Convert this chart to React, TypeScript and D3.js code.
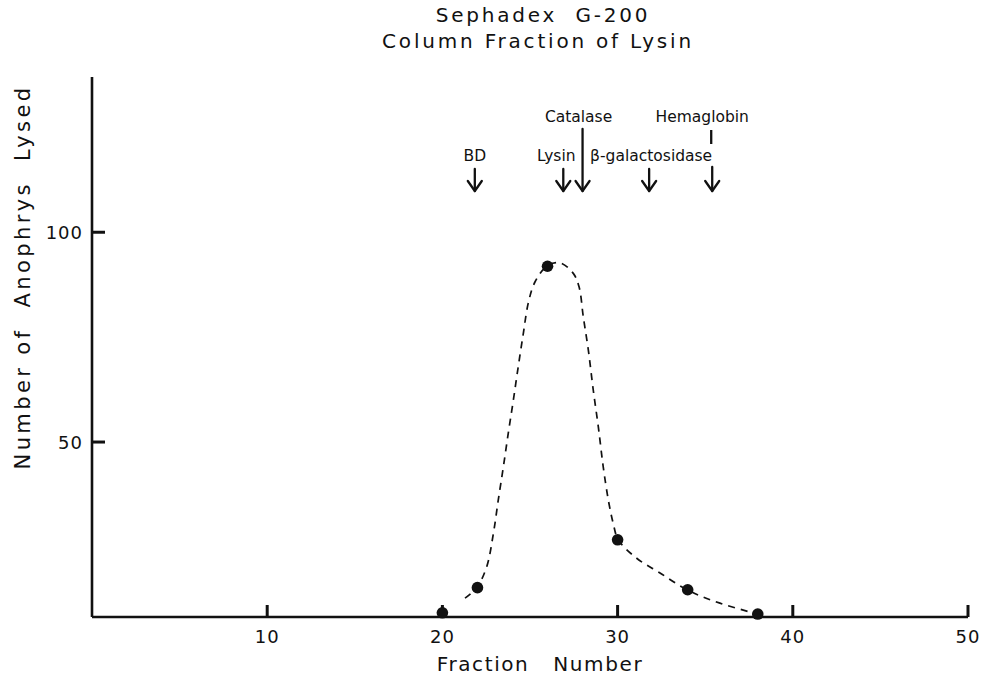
import React from "react";
import * as d3 from "d3";

// Measured fractions (x) and lysis counts (y)
const fractions = [20, 22, 26, 30, 34, 38];
const lysed = [9.3, 15.3, 91.9, 26.7, 14.8, 9.0];

// Hand-drawn elution curve through the measurements
const curveFraction = [21.29, 21.96, 22.53, 22.91, 23.19, 23.48, 23.76, 24.05, 24.33, 24.62, 24.9, 25.29, 25.99, 26.71, 27.47, 27.8, 28.04, 28.33, 28.61, 28.9, 29.18, 29.47, 29.75, 30.04, 31.09, 32.42, 34.0, 35.84, 38.09];
const curveLysed = [12.8, 15.3, 20.3, 28.2, 36.2, 44.1, 52.1, 60.0, 68.0, 75.9, 83.1, 88.2, 92.0, 92.7, 90.2, 87.0, 79.9, 71.9, 62.4, 53.6, 44.1, 36.2, 30.6, 26.7, 22.3, 18.8, 14.7, 11.6, 8.9];

// Elution positions of marker proteins
const markerNames = ["BD", "Lysin", "Catalase", "\u03B2-galactosidase", "Hemaglobin"];
const markerFractions = [21.85, 26.9, 28.0, 31.8, 35.4];

const xTicks = [10, 20, 30, 40, 50];
const yTicks = [50, 100];

const W = 988;
const H = 684;
const FONT = "'DejaVu Sans', sans-serif";

export default function App() {
  const x = d3.scaleLinear().domain([0, 50]).range([92, 968]);
  const y = d3.scaleLinear().domain([8.3, 137]).range([617, 77]);

  const line = d3
    .line<number>()
    .x((_, i) => x(curveFraction[i]))
    .y((_, i) => y(curveLysed[i]))
    .curve(d3.curveCatmullRom.alpha(0.5));

  const x0 = x(0);
  const yBase = y.range()[0];
  const yTop = y.range()[1];

  const arrowTip = 191;
  const arrow = (cx: number, top: number, key: string) => (
    <g key={key} stroke="#111" strokeWidth={2.3} fill="none" strokeLinecap="round" strokeLinejoin="round">
      <line x1={cx} x2={cx} y1={top} y2={arrowTip} />
      <polyline points={`${cx - 7},${arrowTip - 10} ${cx},${arrowTip} ${cx + 7},${arrowTip - 10}`} />
    </g>
  );

  const labelStyle = { fontFamily: FONT, fontSize: 15.5, fill: "#111" } as const;
  const titleStyle = { fontFamily: FONT, fontSize: 20, fill: "#111", letterSpacing: 2.8 } as const;
  const axisTitleStyle = { fontFamily: FONT, fontSize: 20, fill: "#111", letterSpacing: 1.6 } as const;
  const yTitleStyle = { fontFamily: FONT, fontSize: 21, fill: "#111", letterSpacing: 3.4 } as const;

  return (
    <svg
      width={W}
      height={H}
      viewBox={`0 0 ${W} ${H}`}
      style={{ position: "absolute", left: 0, top: 0, background: "#fff" }}
    >
      <rect width={W} height={H} fill="#fff" />

      {/* title */}
      <text x={543} y={22} textAnchor="middle" style={titleStyle} xmlSpace="preserve">
        {"Sephadex  G-200"}
      </text>
      <text x={538} y={48} textAnchor="middle" style={titleStyle}>
        Column Fraction of Lysin
      </text>

      {/* axes */}
      <g stroke="#111" strokeWidth={2.6} fill="none">
        <line x1={x0} x2={x0} y1={yTop} y2={yBase} />
        <line x1={x0} x2={x(50)} y1={yBase} y2={yBase} />
      </g>
      {xTicks.map((t) => (
        <g key={`xt${t}`}>
          <line x1={x(t)} x2={x(t)} y1={yBase} y2={yBase - 12} stroke="#111" strokeWidth={3} />
          <text x={x(t)} y={643} textAnchor="middle" style={{ fontFamily: FONT, fontSize: 18, fill: "#111", letterSpacing: 1 }}>
            {t}
          </text>
        </g>
      ))}
      {yTicks.map((t) => (
        <g key={`yt${t}`}>
          <line x1={x0} x2={x0 + 13} y1={y(t)} y2={y(t)} stroke="#111" strokeWidth={3} />
          <text x={83} y={y(t) + 7} textAnchor="end" style={{ fontFamily: FONT, fontSize: 18, fill: "#111", letterSpacing: 1 }}>
            {t}
          </text>
        </g>
      ))}

      {/* axis titles */}
      <text x={540} y={671} textAnchor="middle" style={axisTitleStyle} xmlSpace="preserve">
        {"Fraction   Number"}
      </text>
      <text
        transform={`translate(30,277) rotate(-90)`}
        textAnchor="middle"
        style={yTitleStyle}
        xmlSpace="preserve"
      >
        {"Number of  Anophrys  Lysed"}
      </text>

      {/* elution curve */}
      <path
        d={line(curveFraction) || ""}
        fill="none"
        stroke="#111"
        strokeWidth={1.7}
        strokeDasharray="7 6"
      />

      {/* measured points */}
      {fractions.map((f, i) => (
        <circle key={`p${f}`} cx={x(f)} cy={y(lysed[i])} r={5.8} fill="#111" />
      ))}

      {/* marker protein labels and arrows */}
      <text x={x(markerFractions[0])} y={161} textAnchor="middle" style={labelStyle}>
        {markerNames[0]}
      </text>
      {arrow(x(markerFractions[0]), 169, "a0")}

      <text x={x(markerFractions[1]) - 7} y={161} textAnchor="middle" style={labelStyle}>
        {markerNames[1]}
      </text>
      {arrow(x(markerFractions[1]), 169, "a1")}

      <text x={x(markerFractions[2]) - 4} y={122} textAnchor="middle" style={labelStyle}>
        {markerNames[2]}
      </text>
      {arrow(x(markerFractions[2]), 129, "a2")}

      <text x={x(markerFractions[3]) + 2} y={161} textAnchor="middle" style={labelStyle}>
        {markerNames[3]}
      </text>
      {arrow(x(markerFractions[3]), 169, "a3")}

      <text x={x(markerFractions[4]) - 10} y={122} textAnchor="middle" style={labelStyle}>
        {markerNames[4]}
      </text>
      <line
        x1={x(markerFractions[4]) - 1}
        x2={x(markerFractions[4]) - 1}
        y1={130}
        y2={144}
        stroke="#111"
        strokeWidth={2.3}
      />
      {arrow(x(markerFractions[4]), 167, "a4")}
    </svg>
  );
}
